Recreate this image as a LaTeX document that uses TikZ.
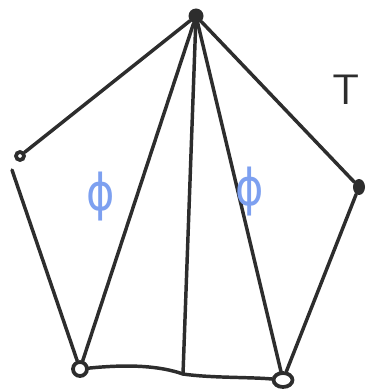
\documentclass[tikz,border=0pt]{standalone}
\usepackage{fontspec}
\newfontfamily\phifont{DejaVu Sans}
\usetikzlibrary{shapes.geometric}
\definecolor{pen}{RGB}{45,45,45}
\definecolor{phiblue}{RGB}{125,160,240}
\begin{document}
\begin{tikzpicture}[x=0.75pt,y=-0.75pt,
  edge/.style={draw=pen, line width=2.6pt, line cap=round},
  openv/.style={circle, draw=pen, line width=2.8pt, inner sep=0pt},
  fillv/.style={circle, fill=pen, inner sep=0pt},
  lbl/.style={text=phiblue, font=\phifont\fontsize{38}{38}\selectfont, xscale=0.85}]
\useasboundingbox (0,0) rectangle (367,392);
\node[fillv, minimum size=15pt*0.75] (top) at (196,16) {};
\node[openv, minimum size=8pt*0.75] (lv) at (20,156) {};
\coordinate (lstart) at (12,170);
\node[fillv, ellipse, minimum width=12pt*0.75, minimum height=16pt*0.75] (rv) at (359,187) {};
\node[openv, minimum size=14pt*0.75] (bl) at (80,369) {};
\node[openv, ellipse, minimum width=19pt*0.75, minimum height=14pt*0.75] (br) at (283,380) {};
\coordinate (mid) at (183,374);
\draw[edge] (top) -- (lv);
\draw[edge] (lstart) -- (bl);
\draw[edge] (top) -- (bl);
\draw[edge] (top) -- (mid);
\draw[edge] (top) -- (br);
\draw[edge] (top) -- (rv);
\draw[edge] (rv) -- (br);
\draw[edge] (bl) .. controls (130,364) and (160,366) .. (mid) .. controls (210,378) and (250,377) .. (br);
\node[lbl] (phi1) at (101,197) {ϕ};
\node[lbl] (phi2) at (250,192) {ϕ};
\node[text=pen, font=\sffamily\fontsize{32}{32}\selectfont, inner sep=1pt] (t) at (346,90) {T};
\end{tikzpicture}
\end{document}
